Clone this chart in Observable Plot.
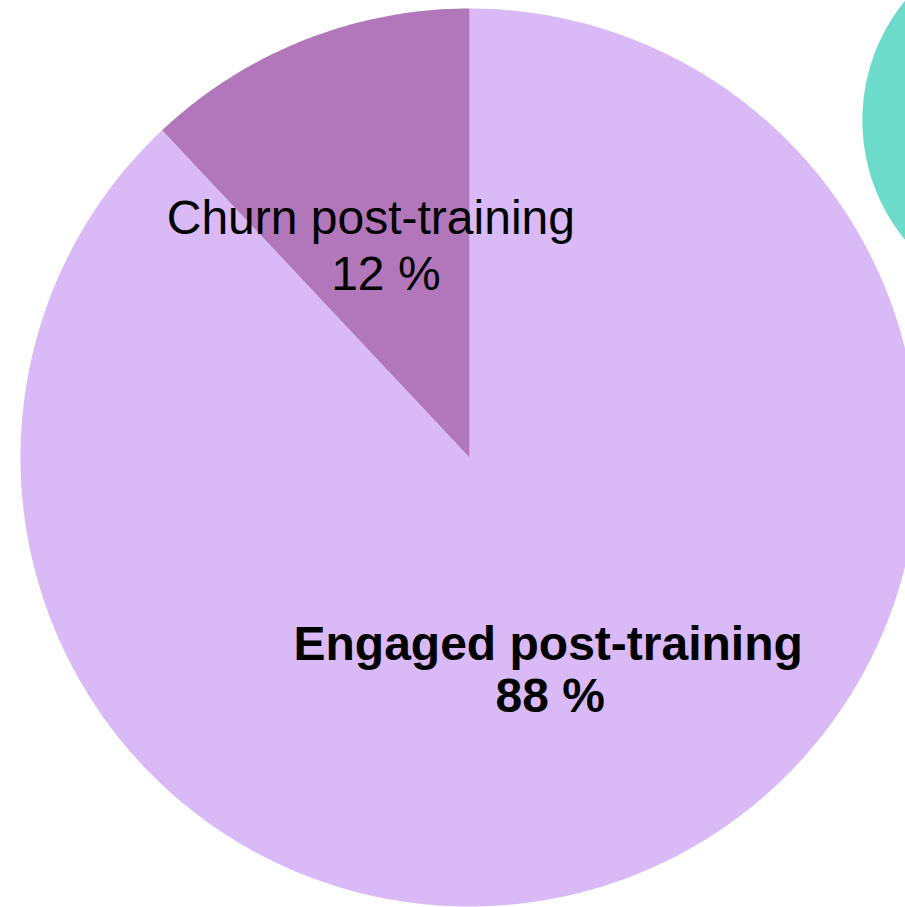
<!DOCTYPE html>
<html>
<head>
<meta charset="utf-8">
<script src="https://cdn.jsdelivr.net/npm/d3@7"></script>
<script src="https://cdn.jsdelivr.net/npm/@observablehq/plot@0.6"></script>
<style>
  html, body { margin: 0; padding: 0; background: #fff; overflow: hidden; }
  svg { display: block; }
</style>
</head>
<body>
<div id="chart"></div>
<script>
// Data
const categories = ["Engaged post-training", "Churn post-training"];
const values = [88, 12];
const colors = ["#d9baf6", "#b277ba"];
const labelWeights = ["bold", "normal"];
// neighbouring chart's pie, cropped at the right edge (single full slice)
const otherPieValues = [100];
const otherPieColors = ["#6cdbca"];

const pie = d3.pie().sort(null).startAngle(0).endAngle(2 * Math.PI);
const arcs = pie(values);

function slicePolygon(a0, a1, cx, cy, r, id) {
  const pts = [];
  const full = (a1 - a0) >= 2 * Math.PI - 1e-9;
  if (!full) pts.push({x: cx, y: cy, id});
  const n = Math.max(8, Math.ceil((a1 - a0) / (Math.PI / 360)));
  for (let i = 0; i <= n; i++) {
    const a = a0 + (a1 - a0) * i / n;
    pts.push({x: cx + r * Math.sin(a), y: cy + r * Math.cos(a), id});
  }
  if (!full) pts.push({x: cx, y: cy, id});
  return pts;
}

const sliceMarks = arcs.map((a, i) =>
  Plot.line(slicePolygon(a.startAngle, a.endAngle, 0, 0, 1, categories[i]),
    {x: "x", y: "y", fill: colors[i], stroke: "none", curve: "linear"})
);

// other pie (partially visible)
const otherArcs = pie(otherPieValues);
const otherMarks = otherArcs.map((a, i) =>
  Plot.line(slicePolygon(a.startAngle, a.endAngle, 1.296, 0.751, 0.421, "other" + i),
    {x: "x", y: "y", fill: otherPieColors[i], stroke: "none", curve: "linear"})
);

const labels = arcs.map((a, i) => {
  const mid = (a.startAngle + a.endAngle) / 2;
  return {x: 0.5 * Math.sin(mid), y: 0.5 * Math.cos(mid),
          name: categories[i], pct: values[i] + " %", weight: labelWeights[i]};
});
const normal = labels.filter(d => d.weight === "normal");
const bold = labels.filter(d => d.weight === "bold");

const chart = Plot.plot({
  width: 905,
  height: 907,
  margin: 0,
  style: {background: "#ffffff", fontFamily: "'Liberation Sans', Arial, sans-serif"},
  x: {type: "linear", domain: [-1, 1], range: [20, 918], axis: null},
  y: {type: "linear", domain: [-1, 1], range: [906, 8], axis: null},
  marks: [
    ...sliceMarks,
    ...otherMarks,
    Plot.text(normal, {x: "x", y: "y", text: "name", fontSize: 48, fill: "#000",
      textAnchor: "middle", dx: -16, dy: -30}),
    Plot.text(normal, {x: "x", y: "y", text: "pct", fontSize: 48, fill: "#000",
      textAnchor: "middle", dx: -1, dy: 26}),
    Plot.text(bold, {x: "x", y: "y", text: "name", fontSize: 48, fontWeight: "bold", fill: "#000",
      textAnchor: "middle", dx: -4, dy: -22}),
    Plot.text(bold, {x: "x", y: "y", text: "pct", fontSize: 48, fontWeight: "bold", fill: "#000",
      textAnchor: "middle", dx: -2, dy: 30})
  ]
});
document.getElementById("chart").appendChild(chart);
</script>
</body>
</html>
